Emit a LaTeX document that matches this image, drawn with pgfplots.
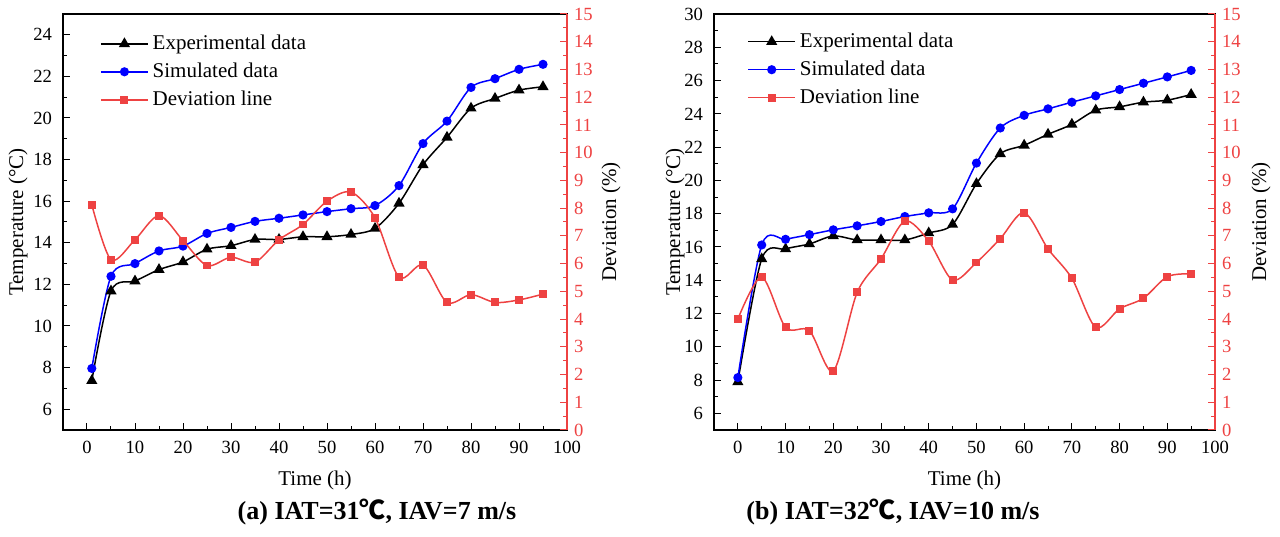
\documentclass[border=0pt]{standalone}
\usepackage{fontspec}
\setmainfont{Liberation Serif}
\newfontfamily\cjk{Noto Sans CJK SC}
\usepackage{pgfplots}
\pgfplotsset{compat=1.18}
\definecolor{devred}{RGB}{238,66,66}
\definecolor{simblue}{RGB}{0,0,255}
\pgfplotsset{
  base/.style={
    scale only axis, height=208pt,
    xmin=-5, xmax=100, xtick={0,10,...,100}, minor x tick num=1,
    tick align=inside, major tick length=3.5pt, minor tick length=2pt,
    /pgf/number format/assume math mode=true,
    ticklabel style={font=\fontsize{9.3}{11}\selectfont},
    label style={font=\fontsize{10.5}{12}\selectfont},
    axis line style={line width=0.6pt},
    every tick/.style={black, line width=0.5pt},
    xticklabel style={yshift=-2pt},
    yticklabel style={xshift=-2pt},
  },
  mainax/.style={base,
    xtick pos=bottom, ytick pos=left,
    xlabel={Time (h)},
    xlabel style={at={(axis description cs:0.5,0)}, anchor=center, yshift=-25pt},
    ylabel={Temperature (°C)},
    legend cell align=left,
    legend style={draw=none, fill=none, anchor=north west, inner sep=0pt,
      font=\fontsize{10.5}{12}\selectfont, row sep=1.2pt},
    legend image code/.code={\draw[mark repeat=2,mark phase=2,#1] plot coordinates {(0pt,0pt)(11.75pt,0pt)(23.5pt,0pt)};},
  },
  devax/.style={base,
    axis x line=none, axis y line*=right,
    ymin=0, ymax=15, ytick={0,1,...,15}, minor y tick num=1,
    y axis line style={devred, line width=0.6pt},
    every tick/.style={devred, line width=0.5pt},
    yticklabel style={devred, xshift=2pt},
    ylabel={Deviation (\%)},
  },
  expst/.style={black, line width=0.75pt, smooth, mark=triangle*, mark size=2.5pt, mark options={solid}},
  simst/.style={simblue, line width=0.75pt, smooth, mark=*, mark size=1.9pt},
  devst/.style={devred, line width=0.75pt, smooth, mark=square*, mark size=1.6pt},
}
\begin{document}
\begin{tikzpicture}
\useasboundingbox (0,0) rectangle (640pt,268pt);
% ---------------- panel (a) ----------------
\begin{axis}[mainax, at={(31.5pt,53pt)}, anchor=south west, width=252pt,
  ymin=5, ymax=25, ytick={6,8,...,24}, minor y tick num=1,
  ylabel style={at={(axis description cs:-0.0893,0.5)}, anchor=center},
  legend style={at={(axis description cs:0.073,0.96)}}]
\addplot[expst] coordinates {(1,7.37)(5,11.68)(10,12.16)(15,12.71)(20,13.08)(25,13.69)(30,13.86)(35,14.16)(40,14.16)(45,14.29)(50,14.29)(55,14.40)(60,14.69)(65,15.90)(70,17.75)(75,19.07)(80,20.47)(85,20.94)(90,21.34)(95,21.50)};
\addlegendentry{Experimental data}
\addplot[simst] coordinates {(1,7.96)(5,12.39)(10,13.0)(15,13.61)(20,13.84)(25,14.45)(30,14.74)(35,15.03)(40,15.18)(45,15.34)(50,15.50)(55,15.64)(60,15.79)(65,16.75)(70,18.77)(75,19.85)(80,21.47)(85,21.89)(90,22.34)(95,22.58)};
\addlegendentry{Simulated data}
\addlegendimage{devst}
\addlegendentry{Deviation line}
\end{axis}
\begin{axis}[devax, at={(31.5pt,53pt)}, anchor=south west, width=252pt,
  ylabel style={at={(axis description cs:1.0873,0.5)}, anchor=center}]
\addplot[devst] coordinates {(1,8.12)(5,6.14)(10,6.86)(15,7.73)(20,6.83)(25,5.93)(30,6.23)(35,6.05)(40,6.86)(45,7.41)(50,8.25)(55,8.58)(60,7.65)(65,5.51)(70,5.95)(75,4.60)(80,4.88)(85,4.60)(90,4.69)(95,4.90)};
\end{axis}
% ---------------- panel (b) ----------------
\begin{axis}[mainax, at={(357pt,53pt)}, anchor=south west, width=250.5pt,
  ymin=5, ymax=30, ytick={6,8,...,30}, minor y tick num=1,
  ylabel style={at={(axis description cs:-0.0778,0.5)}, anchor=center},
  legend style={at={(axis description cs:0.066,0.965)}}]
\addplot[expst] coordinates {(0,7.89)(5,15.28)(10,15.88)(15,16.18)(20,16.66)(25,16.42)(30,16.42)(35,16.42)(40,16.84)(45,17.35)(50,19.80)(55,21.60)(60,22.11)(65,22.77)(70,23.37)(75,24.22)(80,24.42)(85,24.70)(90,24.82)(95,25.16)};
\addlegendentry{Experimental data}
\addplot[simst] coordinates {(0,8.15)(5,16.12)(10,16.46)(15,16.74)(20,17.03)(25,17.27)(30,17.53)(35,17.83)(40,18.05)(45,18.29)(50,21.04)(55,23.15)(60,23.91)(65,24.30)(70,24.70)(75,25.08)(80,25.46)(85,25.84)(90,26.22)(95,26.61)};
\addlegendentry{Simulated data}
\addlegendimage{devst}
\addlegendentry{Deviation line}
\end{axis}
\begin{axis}[devax, at={(357pt,53pt)}, anchor=south west, width=250.5pt,
  ylabel style={at={(axis description cs:1.0918,0.5)}, anchor=center}]
\addplot[devst] coordinates {(0,4.00)(5,5.51)(10,3.70)(15,3.58)(20,2.13)(25,4.96)(30,6.17)(35,7.53)(40,6.81)(45,5.41)(50,6.04)(55,6.90)(60,7.84)(65,6.53)(70,5.47)(75,3.70)(80,4.37)(85,4.75)(90,5.53)(95,5.63)};
\end{axis}
% ---------------- captions ----------------
\node[font=\bfseries\fontsize{13}{15}\selectfont] at (188.5pt,12pt) {(a) IAT=31{\cjk ℃}, IAV=7 m/s};
\node[font=\bfseries\fontsize{13}{15}\selectfont] at (446.5pt,12pt) {(b) IAT=32{\cjk ℃}, IAV=10 m/s};
\end{tikzpicture}
\end{document}
